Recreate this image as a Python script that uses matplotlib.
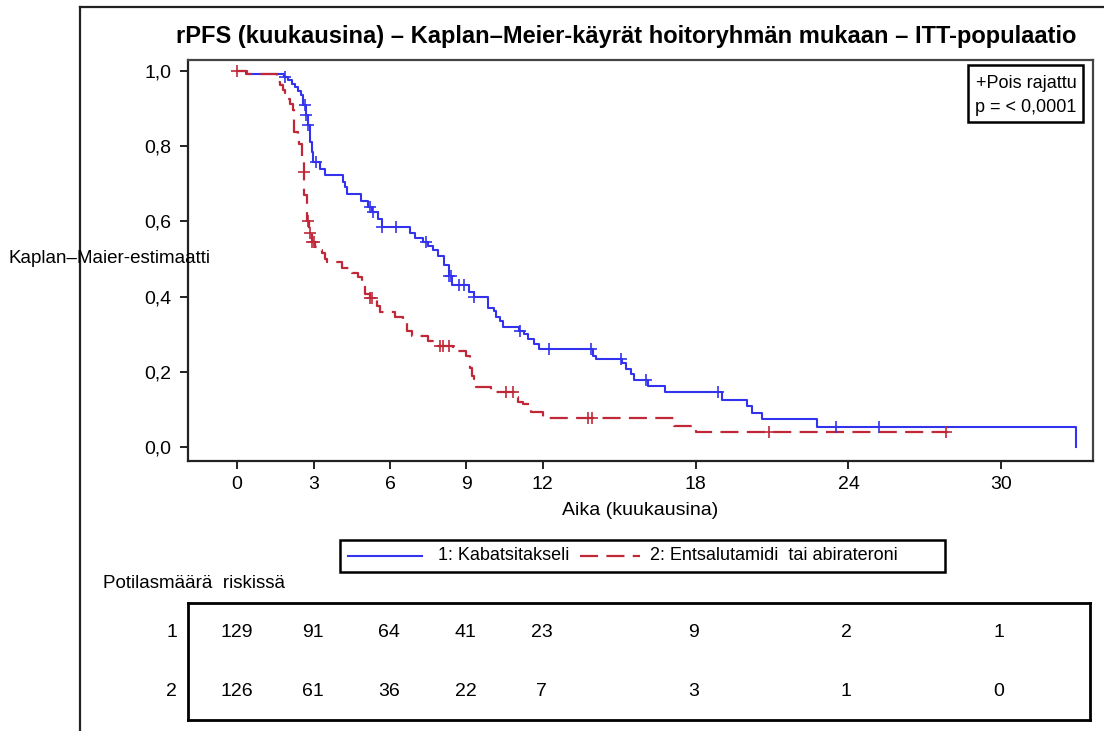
import numpy as np
import matplotlib
matplotlib.use("Agg")
import matplotlib.pyplot as plt
from matplotlib.lines import Line2D
from matplotlib.patches import Rectangle

plt.rcParams['font.family'] = ['Liberation Sans Narrow', 'Liberation Sans', 'DejaVu Sans']
plt.rcParams['lines.scale_dashes'] = False

# Kaplan-Meier steps (time in months, survival after step)
blue_t = [0, 0.35, 1.85, 2.0, 2.16, 2.28, 2.40, 2.52, 2.60, 2.70,
          2.79, 2.87, 2.95, 2.99, 3.26, 3.46, 4.17, 4.25, 4.33, 4.88,
          5.15, 5.31, 5.54, 5.70, 6.80, 7.0, 7.31, 7.50, 7.67, 7.90,
          8.14, 8.30, 8.45, 9.1, 9.28, 9.83, 10.07, 10.18, 10.30, 10.42,
          11.05, 11.25, 11.40, 11.64, 11.84, 13.96, 14.08, 15.1, 15.26, 15.45,
          15.57, 16.12, 16.79, 19.03, 20.02, 20.21, 20.61, 22.77, 32.95]
blue_s = [1.0, 0.992, 0.984, 0.976, 0.966, 0.958, 0.947, 0.936, 0.91, 0.883,
          0.857, 0.81, 0.785, 0.759, 0.74, 0.724, 0.706, 0.692, 0.674, 0.653,
          0.639, 0.626, 0.607, 0.584, 0.570, 0.557, 0.544, 0.535, 0.525, 0.507,
          0.485, 0.456, 0.432, 0.411, 0.40, 0.371, 0.361, 0.347, 0.334, 0.318,
          0.308, 0.30, 0.286, 0.273, 0.26, 0.241, 0.233, 0.223, 0.207, 0.194,
          0.178, 0.162, 0.146, 0.125, 0.109, 0.090, 0.074, 0.053, 0.0]
blue_cens = [1.89, 2.67, 2.71, 2.79, 3.11, 5.23, 5.35, 5.70, 6.25, 7.43,
             8.30, 8.38, 8.7, 8.9, 9.3, 11.09, 12.23, 13.9, 15.06, 16.04,
             18.88, 23.5, 25.2]

red_t = [0, 0.4, 1.57, 1.69, 1.81, 1.89, 2.0, 2.08, 2.20, 2.24,
         2.40, 2.44, 2.56, 2.62, 2.64, 2.75, 2.83, 2.95, 3.07, 3.19,
         3.34, 3.46, 3.54, 4.13, 4.52, 4.76, 4.92, 5.03, 5.2, 5.50,
         5.62, 6.21, 6.53, 6.68, 6.88, 7.51, 7.71, 7.90, 8.49, 8.97,
         9.16, 9.22, 9.28, 9.36, 9.95, 10.85, 11.01, 11.21, 11.44, 11.52,
         11.99, 17.14, 18.01]
red_s = [1.0, 0.992, 0.971, 0.963, 0.95, 0.936, 0.926, 0.912, 0.897, 0.838,
         0.825, 0.806, 0.772, 0.732, 0.67, 0.60, 0.57, 0.546, 0.533, 0.525,
         0.515, 0.501, 0.491, 0.477, 0.464, 0.451, 0.432, 0.406, 0.395, 0.374,
         0.358, 0.347, 0.34, 0.308, 0.294, 0.281, 0.276, 0.268, 0.255, 0.241,
         0.21, 0.188, 0.18, 0.159, 0.146, 0.133, 0.119, 0.114, 0.106, 0.094,
         0.077, 0.056, 0.040]
red_end = 27.9
red_cens = [0.0, 2.63, 2.79, 2.87, 2.95, 3.0, 5.23, 5.31, 7.98, 8.1,
            8.3, 10.54, 10.81, 13.76, 13.92, 20.88, 27.84]

xticks = [0, 3, 6, 9, 12, 18, 24, 30]
yticks = [0.0, 0.2, 0.4, 0.6, 0.8, 1.0]
ytick_labels = ['0,0', '0,2', '0,4', '0,6', '0,8', '1,0']
risk_times = [0, 3, 6, 9, 12, 18, 24, 30]
risk_1 = [129, 91, 64, 41, 23, 9, 2, 1]
risk_2 = [126, 61, 36, 22, 7, 3, 1, 0]

blue = '#3333ee'
red = '#c02838'
W, H = 1104, 731

fig = plt.figure(figsize=(W / 100, H / 100), dpi=100)

def box(l, t, r, b):
    return [l / W, 1 - b / H, (r - l) / W, (b - t) / H]

ax = fig.add_axes(box(188, 60, 1093, 461))
xlim = (-1.93, 33.6)
ax.set_xlim(*xlim)
ax.set_ylim(-0.037, 1.029)

ax.step(blue_t, blue_s, where='post', color=blue, lw=1.5)
rt = np.append(red_t, red_end)
rs = np.append(red_s, red_s[-1])
ax.step(rt, rs, where='post', color=red, lw=1.6, linestyle=(0, (13, 6)))

def at(t, s, c):
    t = np.asarray(t)
    idx = np.searchsorted(t, c, side='right') - 1
    return np.asarray(s)[idx]

ax.plot(blue_cens, at(blue_t, blue_s, blue_cens), '+', color=blue, ms=8, mew=1.2)
ax.plot(red_cens, at(rt, rs, red_cens), '+', color=red, ms=8, mew=1.2)

ax.set_xticks(xticks)
ax.set_xticklabels([str(x) for x in xticks])
ax.set_yticks(yticks)
ax.set_yticklabels(ytick_labels)
ax.tick_params(direction='out', length=6, width=1.4, labelsize=14, color='#222222')
ax.tick_params(axis='y', pad=6)
ax.tick_params(axis='x', pad=5)
for sp in ax.spines.values():
    sp.set_linewidth(1.6)
    sp.set_color('#444444')
ax.spines['left'].set_color('#222222')
ax.spines['bottom'].set_color('#222222')

ax.set_xlabel('Aika (kuukausina)', fontsize=14, labelpad=6)
fig.text(8 / W, 1 - 258 / H, 'Kaplan\u2013Maier-estimaatti', fontsize=13.5, ha='left', va='center')

fig.text(176 / W, 1 - 36 / H,
         'rPFS (kuukausina) \u2013 Kaplan\u2013Meier-käyrät hoitoryhmän mukaan \u2013 ITT-populaatio',
         fontsize=17, fontweight='bold', ha='left', va='center')

# censor / p-value box
fig.patches.append(Rectangle((968 / W, 1 - 122 / H), 115 / W, 57 / H, transform=fig.transFigure,
                             fill=False, lw=1.8, ec='black'))
fig.text(1026 / W, 1 - 84 / H, '+Pois rajattu', fontsize=13, ha='center', va='center')
fig.text(1026 / W, 1 - 107 / H, 'p = < 0,0001', fontsize=13, ha='center', va='center')

# legend box
fig.patches.append(Rectangle((340 / W, 1 - 572 / H), 605 / W, 32 / H, transform=fig.transFigure,
                             fill=False, lw=1.8, ec='black'))
fig.add_artist(Line2D([348 / W, 422 / W], [1 - 556 / H] * 2, color=blue, lw=1.5))
fig.text(438 / W, 1 - 556 / H, '1: Kabatsitakseli', fontsize=13, ha='left', va='center')
fig.add_artist(Line2D([580 / W, 640 / W], [1 - 556 / H] * 2, color=red, lw=1.6, linestyle=(0, (13, 6))))
fig.text(650 / W, 1 - 556 / H, '2: Entsalutamidi  tai abirateroni', fontsize=13, ha='left', va='center')

fig.text(103 / W, 1 - 583 / H, 'Potilasmäärä  riskissä', fontsize=13.5, ha='left', va='center')

# at-risk table
tab = fig.add_axes(box(188, 603, 1090, 720))
tab.set_xlim(*xlim)
tab.set_ylim(0, 1)
tab.set_xticks([])
tab.set_yticks([])
for sp in tab.spines.values():
    sp.set_linewidth(2)
    sp.set_color('black')
for t, n in zip(risk_times, risk_1):
    tab.text(t, 0.745, str(n), fontsize=14, ha='center', va='center')
for t, n in zip(risk_times, risk_2):
    tab.text(t, 0.24, str(n), fontsize=14, ha='center', va='center')
tab.text(-0.012, 0.745, '1', fontsize=14, ha='right', va='center', transform=tab.transAxes)
tab.text(-0.012, 0.24, '2', fontsize=14, ha='right', va='center', transform=tab.transAxes)

# outer frame (cropped)
fig.add_artist(Line2D([80 / W, 80 / W], [0, 1 - 7 / H], color='#222222', lw=1.6))
fig.add_artist(Line2D([80 / W, 1], [1 - 7 / H, 1 - 7 / H], color='#222222', lw=1.6))

fig.savefig('out.png', dpi=100)
